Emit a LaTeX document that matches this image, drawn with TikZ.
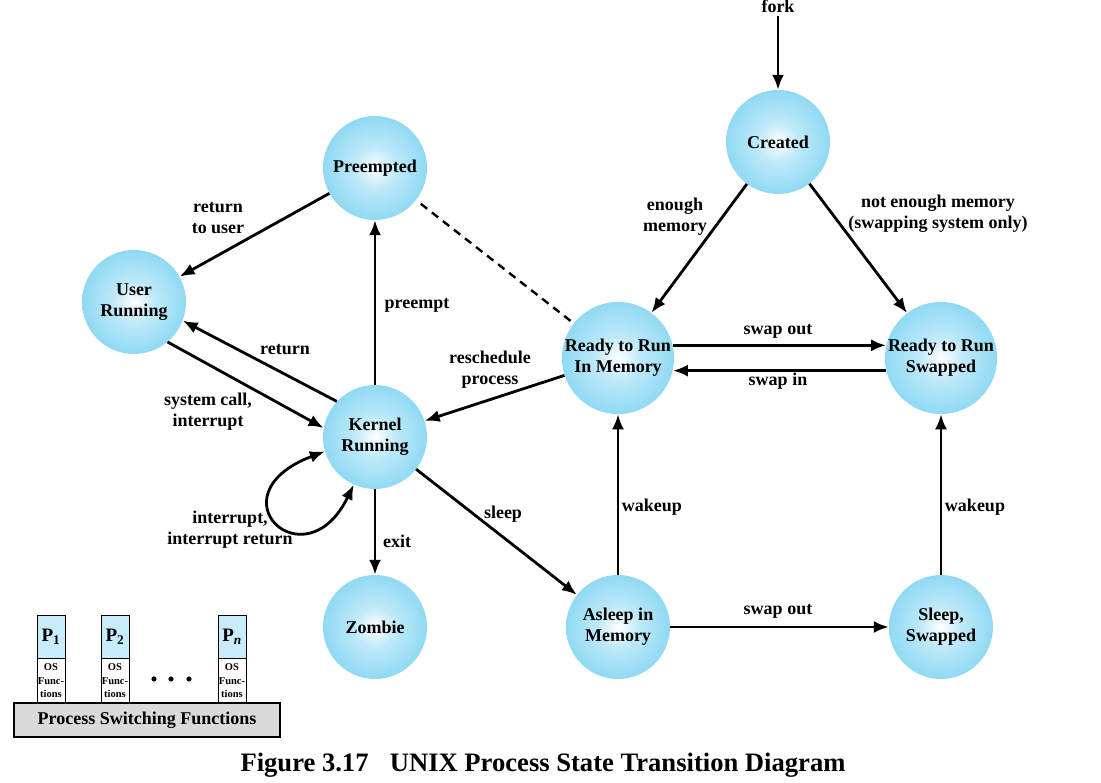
\documentclass[tikz,border=0pt]{standalone}
\usepackage{fontspec}
\setmainfont{Liberation Serif}
\usetikzlibrary{arrows.meta,positioning}
\definecolor{stateblue}{RGB}{92,200,238}
\definecolor{procblue}{RGB}{200,236,250}
\definecolor{basegray}{RGB}{218,218,218}
\pgfdeclareradialshading{stateball}{\pgfpoint{0bp}{0bp}}{color(0bp)=(white); color(10bp)=(stateblue!40); color(34bp)=(stateblue!85); color(50bp)=(stateblue)}

\begin{document}
\begin{tikzpicture}[x = 1pt, y = -1pt, font=\fontsize{18}{21}\selectfont\bfseries,
  state/.style={circle, minimum size=104pt, inner sep=0pt, shading=stateball, align=center},
  trans/.style={line width=2.8pt, -{Latex[length=15pt,width=12pt]}},
  lbl/.style={align=center}]
\useasboundingbox (0,0) rectangle (1101,783);
% States
\node[state] (created) at (778,142) {Created};
\node[state] (preempted) at (375,168) {Preempted};
\node[state] (user) at (134,302) {User\\Running};
\node[state] (kernel) at (375,437) {Kernel\\Running};
\node[state] (readymem) at (618,358) {Ready to Run\\In Memory};
\node[state] (readyswap) at (941,358) {Ready to Run\\Swapped};
\node[state] (zombie) at (375,627) {Zombie};
\node[state] (asleep) at (618,627) {Asleep in\\Memory};
\node[state] (sleepswap) at (941,627) {Sleep,\\Swapped};
% fork
\node (fork) at (778,6) {fork};
\draw[trans] (fork) -- (created);
% Created -> ready
\draw[trans] (created) -- (readymem);
\draw[trans] (created) -- (readyswap);
\node[lbl] (lenough) at (675,217) {enough\\memory};
\node[lbl] (lnotenough) at (938,214) {not enough memory\\(swapping system only)};
% Swapping between ready states
\draw[trans] (readymem.13) -- (readyswap.167);
\draw[trans] (readyswap.-167) -- (readymem.-13);
\node (lswapout) at (778,331) {swap out};
\node (lswapin) at (778,381) {swap in};
% Kernel transitions
\draw[trans] (kernel) -- (preempted);
\node (lpreempt) at (417,305) {preempt};
\draw[trans] (preempted) -- (user);
\node[lbl] (lreturnuser) at (218,218) {return\\to user};
\draw[line width=2.4pt, dash pattern=on 8pt off 6pt, shorten <=6pt] (preempted) -- (readymem);
\draw[trans] (user.-50) -- (kernel.170);
\node[lbl] (lsyscall) at (208,412) {system call,\\interrupt};
\draw[trans] (kernel.137) -- (user.-21);
\node (lreturn) at (285,350) {return};
\draw[line width=2.8pt, {Latex[length=15pt,width=12pt]}-{Latex[length=15pt,width=12pt]}] (kernel.196) .. controls (210,495) and (305,585) .. (kernel.246);
\node[lbl] (linterrupt) at (230,530) {interrupt,\\interrupt return};
\draw[trans] (readymem) -- (kernel);
\node[lbl] (lresched) at (490,370) {reschedule\\process};
\draw[trans] (kernel) -- (zombie);
\node (lexit) at (397,541) {exit};
\draw[trans] (kernel) -- (asleep);
\node (lsleep) at (503,514) {sleep};
% Sleeping states
\draw[trans] (asleep) -- (readymem);
\node (lwakeup) at (652,507) {wakeup};
\draw[trans] (sleepswap) -- (readyswap);
\node (lwakeupswap) at (975,507) {wakeup};
\draw[trans] (asleep) -- (sleepswap);
\node (lswapoutsleep) at (778,611) {swap out};
% Process switching inset
\foreach \i/\x/\sub in {1/51/1, 2/115/2, n/232/\textit{n}} {
  \node[draw, line width=0.9pt, fill=procblue, minimum width=28pt, minimum height=43pt, inner sep=0pt,
    font=\fontsize{19}{21}\selectfont\bfseries] (p\i) at (\x,636.5) {P\textsubscript{\sub}};
  \node[draw, line width=0.9pt, fill=white, minimum width=28pt, minimum height=44pt, inner sep=0pt, align=center,
    font=\fontsize{10.5}{13.5}\selectfont\bfseries, below=0pt of p\i] (os\i) {OS\\Func-\\tions};
}
\foreach \x in {154,171,189} \fill (\x,679) circle (2.6pt);
\node[draw, line width=1.8pt, fill=basegray, minimum width=266pt, minimum height=34pt, inner sep=0pt] (switch) at (147,720) {Process Switching Functions};
% Caption
\node[font=\fontsize{26.6}{30}\selectfont\bfseries] (caption) at (543,765) {Figure 3.17\hspace{0.8em}UNIX Process State Transition Diagram};
\end{tikzpicture}
\end{document}
